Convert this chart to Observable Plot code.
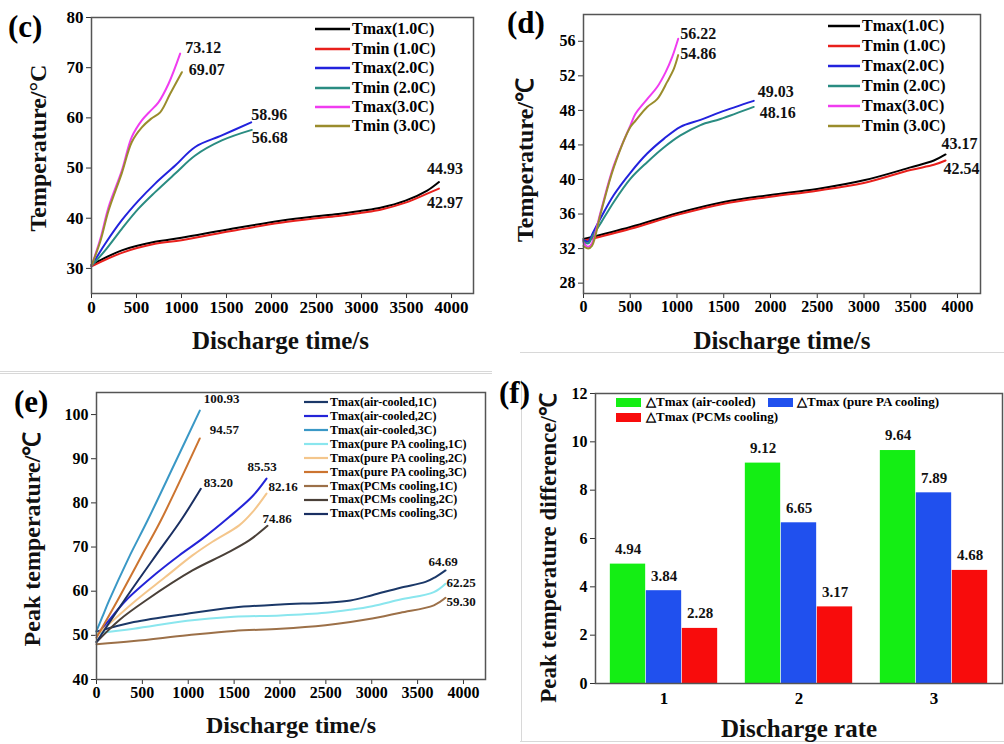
<!DOCTYPE html>
<html><head><meta charset="utf-8">
<script src="https://cdn.jsdelivr.net/npm/d3@7"></script>
<script src="https://cdn.jsdelivr.net/npm/@observablehq/plot@0.6"></script>
<style>
body{margin:0;background:#fff;}
#root{position:relative;width:1004px;height:744px;overflow:hidden;font-family:"Liberation Serif","Times New Roman",serif;font-weight:bold;color:#000;}
.panel{position:absolute;}
.abs{position:absolute;white-space:nowrap;}
.plabel{position:absolute;font-size:31px;line-height:31px;font-weight:bold;}
.ytitle{position:absolute;white-space:nowrap;transform:translate(-50%,-50%) rotate(-90deg);line-height:1;color:#111;}
.sep{position:absolute;background:#d8d8d8;}
</style></head><body><div id="root"></div>
<script>
// ---------- DATA ----------
const xTickValues = [0,500,1000,1500,2000,2500,3000,3500,4000];

// panel (c)
const cNames = ["Tmax(1.0C)","Tmin (1.0C)","Tmax(2.0C)","Tmin (2.0C)","Tmax(3.0C)","Tmin (3.0C)"];
const cEndLabels = ["44.93","42.97","58.96","56.68","73.12","69.07"];
const cTmax1 = [[0,30.7],[337,33.6],[707,35.3],[1000,36.1],[1500,37.7],[2100,39.5],[2500,40.4],[2767,40.9],[3000,41.5],[3211,42.1],[3489,43.5],[3730,45.5],[3860,47.2]];
const cTmin1 = [[0,30.4],[337,33.1],[707,34.9],[1000,35.6],[1500,37.3],[2100,39.1],[2500,40.0],[2767,40.5],[3000,41.1],[3211,41.7],[3489,43.1],[3730,44.9],[3860,45.9]];
const cTmax2 = [[0,30.5],[152,34.9],[337,39.6],[522,43.5],[707,46.9],[930,50.5],[1152,54.2],[1448,56.5],[1774,59.1]];
const cTmin2 = [[0,30.5],[152,33.6],[337,37.9],[522,41.9],[707,45.2],[930,48.9],[1152,52.5],[1448,55.5],[1781,57.6]];
const cTmax3 = [[0,30.5],[100,36.0],[189,42.2],[337,49.5],[448,56.2],[559,59.5],[650,61.3],[744,63.1],[856,66.8],[985,72.8]];
const cTmin3 = [[0,30.5],[100,35.5],[189,41.5],[337,49.0],[448,55.2],[559,58.1],[660,59.8],[763,61.1],[874,64.8],[1004,69.1]];

// panel (d)
const dNames = cNames;
const dEndLabels = ["43.17","42.54","49.03","48.16","56.22","54.86"];
const dTmax1 = [[0,33.1],[503,34.5],[1002,36.1],[1501,37.4],[2000,38.2],[2499,38.9],[2998,39.9],[3497,41.4],[3747,42.2],[3872,42.9]];
const dTmin1 = [[0,32.9],[503,34.3],[1002,35.9],[1501,37.2],[2000,38.0],[2499,38.7],[2998,39.6],[3497,41.1],[3747,41.7],[3872,42.2]];
const dTmax2 = [[0,33.0],[50,32.8],[100,33.8],[182,35.5],[324,38.2],[503,40.8],[681,43.0],[859,44.7],[1037,46.1],[1251,46.9],[1465,47.8],[1821,49.1]];
const dTmin2 = [[0,32.8],[50,32.6],[100,33.5],[182,34.9],[324,37.4],[503,40.1],[681,42.0],[859,43.7],[1037,45.1],[1251,46.3],[1465,47.0],[1821,48.4]];
const dTmax3 = [[0,32.7],[50,32.2],[90,32.6],[182,36.2],[324,41.6],[503,46.3],[556,47.6],[681,49.3],[788,50.7],[877,52.4],[949,54.2],[1013,56.3]];
const dTmin3 = [[0,32.3],[50,32.0],[90,32.3],[182,36.0],[324,41.4],[503,46.1],[556,46.8],[681,48.4],[788,49.3],[895,51.3],[966,52.8],[1013,54.4]];

// panel (e)
const eNames = ["Tmax(air-cooled,1C)","Tmax(air-cooled,2C)","Tmax(air-cooled,3C)","Tmax(pure PA cooling,1C)","Tmax(pure PA cooling,2C)","Tmax(pure PA cooling,3C)","Tmax(PCMs cooling,1C)","Tmax(PCMs cooling,2C)","Tmax(PCMs cooling,3C)"];
const eEndLabels = ["64.69","85.53","100.93","62.25","82.16","94.57","59.30","74.86","83.20"];
const eAir1 = [[0,50.8],[407,53.0],[988,54.9],[1497,56.3],[2005,57.0],[2496,57.4],[2768,57.9],[3005,59.1],[3313,60.8],[3586,62.1],[3695,63.2],[3804,64.7]];
const eAir2 = [[0,50.0],[160,54.0],[320,57.9],[650,64.0],[901,68.1],[1155,71.9],[1446,76.8],[1700,81.5],[1853,85.5]];
const eAir3 = [[0,51.0],[60,54.0],[138,57.9],[350,67.5],[556,76.0],[850,88.8],[1126,100.9]];
const ePA1 = [[0,50.5],[407,51.5],[988,53.3],[1497,54.2],[2005,54.5],[2496,55.1],[2768,55.8],[3005,56.6],[3313,58.1],[3677,59.8],[3804,61.7]];
const ePA2 = [[0,50.0],[429,57.9],[750,63.2],[1046,68.1],[1264,71.2],[1555,74.9],[1700,77.9],[1853,82.1]];
const ePA3 = [[0,49.5],[229,57.9],[494,68.1],[701,76.0],[1126,94.6]];
const ePCM1 = [[0,48.0],[407,48.7],[988,50.0],[1497,51.0],[2005,51.5],[2496,52.3],[2768,53.0],[3005,53.8],[3313,55.1],[3677,56.8],[3804,58.5]];
const ePCM2 = [[0,48.5],[250,53.5],[537,57.9],[1046,64.7],[1409,68.5],[1664,71.5],[1864,74.8]];
const ePCM3 = [[0,48.5],[302,57.9],[647,68.1],[919,76.0],[1137,83.2]];

// panel (f)
const fRates = ["1","2","3"];
const fNames = ["△Tmax (air-cooled)","△Tmax (pure PA cooling)","△Tmax (PCMs cooling)"];
const fAir = [4.94, 9.12, 9.64];
const fPA = [3.84, 6.65, 7.89];
const fPCM = [2.28, 3.17, 4.68];

// ---------- STYLES ----------
const cColors = ["#000000","#e8201c","#2222dd","#2a8c82","#f03cf0","#9a8c2c"];
const eColors = ["#1b3868","#2424d8","#3a98c6","#8ae6ee","#f4c68c","#cc7430","#9c7048","#4a4038","#1a2f62"];
const fColors = ["#14ee14","#2050ee","#f80c0c"];

const root = document.getElementById("root");
const FONT = "Liberation Serif, Times New Roman, serif";
const fmt = d => String(d);

function linePanel(cfg) {
  const rows = cfg.names.flatMap((n,i)=>cfg.series[i].map(([t,v])=>({series:n,t,v})));
  const m = cfg.margins;
  return Plot.plot({
    width: cfg.width, height: cfg.height,
    marginLeft: m[0], marginRight: m[1], marginTop: m[2], marginBottom: m[3],
    style: {fontFamily: FONT, fontWeight: "bold", background: "transparent", overflow: "visible", color: "#000"},
    x: {domain: cfg.xDomain},
    y: {domain: cfg.yDomain},
    color: {domain: cfg.names, range: cfg.colors},
    marks: [
      Plot.axisX({ticks: xTickValues, tickFormat: fmt, tickSize: 5, tickPadding: 2, fontSize: cfg.tickFont, label: null, stroke: "#333"}),
      Plot.axisY({ticks: cfg.yTicks, tickFormat: fmt, tickSize: 5, tickPadding: 3, fontSize: cfg.tickFont, label: null, stroke: "#333"}),
      Plot.line(rows, {x: "t", y: "v", z: "series", stroke: "series", strokeWidth: cfg.sw, curve: "catmull-rom"}),
      ...cfg.names.map((n,i)=>{
        const s = cfg.series[i]; const last = s[s.length-1];
        return Plot.text([last], {x: d=>d[0], y: d=>d[1], text: ()=>cfg.labels[i], dx: cfg.off[i][0], dy: cfg.off[i][1], textAnchor: "start", fontSize: cfg.labelFont, fill: "#111"});
      }),
      Plot.frame({stroke: "#555", strokeWidth: 1.5}),
      Plot.text([cfg.xTitle], {frameAnchor: "bottom", text: d=>d, dx: cfg.xTitleOff[0], dy: cfg.xTitleOff[1], fontSize: cfg.xTitleFont, lineAnchor: "middle", fill: "#111"})
    ]
  });
}

function place(node, left, top) {
  const d = document.createElement("div");
  d.className = "panel"; d.style.left = left+"px"; d.style.top = top+"px";
  d.appendChild(node); root.appendChild(d);
}

function yTitle(txt, cx, cy, size) {
  const d = document.createElement("div"); d.className = "ytitle";
  d.textContent = txt; d.style.left = cx+"px"; d.style.top = cy+"px"; d.style.fontSize = size+"px";
  root.appendChild(d);
}

function lineLegend(names, colors, x1, x2, tx, centers, fontSize, sw) {
  names.forEach((n,i)=>{
    const sv = d3.create("svg").attr("width", x2-x1).attr("height", 8)
      .style("position","absolute").style("left", x1+"px").style("top", (centers[i]-4)+"px");
    sv.append("line").attr("x1",0).attr("x2",x2-x1).attr("y1",4).attr("y2",4).attr("stroke",colors[i]).attr("stroke-width",sw);
    root.appendChild(sv.node());
    const t = document.createElement("div");
    t.className = "abs"; t.textContent = n;
    t.style.left = tx+"px"; t.style.top = (centers[i]-fontSize*0.6)+"px";
    t.style.fontSize = fontSize+"px"; t.style.lineHeight = (fontSize*1.2)+"px";
    root.appendChild(t);
  });
}

function panelLabel(txt, left, top) {
  const d = document.createElement("div"); d.className = "plabel";
  d.textContent = txt; d.style.left = left+"px"; d.style.top = top+"px";
  root.appendChild(d);
}

// separators
[[0,371,492,1],[0,373,492,1],[520,741,484,1],[521,380,1,362],[520,352,484,1]].forEach(([l,t,w,h])=>{
  const d = document.createElement("div"); d.className="sep";
  Object.assign(d.style,{left:l+"px",top:t+"px",width:w+"px",height:h+"px"}); root.appendChild(d);
});

// ---------- (c) ----------
place(linePanel({
  names: cNames, colors: cColors, labels: cEndLabels,
  series: [cTmax1,cTmin1,cTmax2,cTmin2,cTmax3,cTmin3],
  off: [[-12,-13],[-12,14],[0,-8],[0,8],[5,-6],[7,-2]],
  width: 500, height: 370, margins: [91,27,17,77],
  xDomain: [0,4244], yDomain: [25,80], yTicks: [30,40,50,60,70,80],
  tickFont: 17, labelFont: 16, sw: 2,
  xTitle: "Discharge time/s", xTitleOff: [-2,47], xTitleFont: 25
}), 0, 0);
yTitle("Temperature/°C", 38, 148, 24);
lineLegend(cNames, cColors, 315, 350, 352, [29,48.5,68,87.5,107,126], 16, 2.5);
panelLabel("(c)", 8, 11);

// ---------- (d) ----------
place(linePanel({
  names: dNames, colors: cColors, labels: dEndLabels,
  series: [dTmax1,dTmin1,dTmax2,dTmin2,dTmax3,dTmin3],
  off: [[-4,-11],[-2,8],[4,-9],[6,6],[2,-5],[2,-1]],
  width: 504, height: 370, margins: [83,24,14,77],
  xDomain: [0,4246], yDomain: [26.8,59.1], yTicks: [28,32,36,40,44,48,52,56],
  tickFont: 16, labelFont: 16, sw: 2,
  xTitle: "Discharge time/s", xTitleOff: [0,47], xTitleFont: 25
}), 500, 0);
yTitle("Temperature/℃", 525, 160, 24);
lineLegend(dNames, cColors, 828, 860, 862, [26,46,66,86,106,126], 16, 2.5);
panelLabel("(d)", 507, 7);

// ---------- (e) ----------
place(linePanel({
  names: eNames, colors: eColors, labels: eEndLabels,
  series: [eAir1,eAir2,eAir3,ePA1,ePA2,ePA3,ePCM1,ePCM2,ePCM3],
  off: [[-17,-9],[-19,-12],[4,-12],[1,-1],[2,-7],[10,-9],[1,4],[-5,-7],[3,-6]],
  width: 500, height: 374, margins: [96,15,22,65],
  xDomain: [0,4240], yDomain: [40,105], yTicks: [40,50,60,70,80,90,100],
  tickFont: 16, labelFont: 13, sw: 2,
  xTitle: "Discharge time/s", xTitleOff: [0,46], xTitleFont: 24
}), 0, 370);
yTitle("Peak temperature/℃", 32, 539, 24);
lineLegend(eNames, eColors, 304, 328, 330, [402,416,430,444,458,472,486,499.5,513.5], 12, 2.2);
panelLabel("(e)", 14, 386);

// ---------- (f) ----------
(function(){
  const series = [fAir, fPA, fPCM];
  const rowsBy = series.map(vals => fRates.map((r,j)=>({rate:r, value: vals[j]})));
  const band = 407/3, bw = 36;
  const insets = [0,1,2].map(k=>{ const l = band/2 - 1.5*bw + k*bw; return [l, band - l - bw]; });
  const chart = Plot.plot({
    width: 504, height: 374,
    marginLeft: 95, marginRight: 2, marginTop: 23, marginBottom: 61,
    style: {fontFamily: FONT, fontWeight: "bold", background: "transparent", overflow: "visible", color: "#000"},
    x: {domain: fRates, padding: 0},
    y: {domain: [0,12]},
    marks: [
      ...rowsBy.map((rows,k)=>Plot.barY(rows, {x: "rate", y: "value", fill: fColors[k], insetLeft: insets[k][0], insetRight: insets[k][1]})),
      ...rowsBy.map((rows,k)=>Plot.text(rows, {x: "rate", y: "value", text: d=>d.value.toFixed(2), dx: (k-1)*bw, dy: -15, fontSize: 15, fill: "#111"})),
      Plot.axisX({tickSize: 0, tickPadding: 8, fontSize: 17, label: null}),
      Plot.axisY({ticks: [0,2,4,6,8,10,12], tickFormat: fmt, tickSize: 5, tickPadding: 3, fontSize: 16, label: null, stroke: "#333"}),
      Plot.frame({stroke: "#555", strokeWidth: 1.5}),
      Plot.text(["Discharge rate"], {frameAnchor: "bottom", text: d=>d, dy: 45, fontSize: 25, lineAnchor: "middle", fill: "#111"})
    ]
  });
  place(chart, 500, 370);
  yTitle("Peak temperature difference/℃", 548, 548, 23);
  // legend
  const lg = [[616,402,646],[768,402,797],[616,417,646]];
  fNames.forEach((n,i)=>{
    const r = document.createElement("div"); r.className = "abs";
    Object.assign(r.style,{left: lg[i][0]+"px", top: (lg[i][1]-4.5)+"px", width: "25px", height: "9px", background: fColors[i]});
    root.appendChild(r);
    const t = document.createElement("div"); t.className = "abs"; t.textContent = n;
    Object.assign(t.style,{left: lg[i][2]+"px", top: (lg[i][1]-8)+"px", fontSize: "13px", lineHeight: "16px"});
    root.appendChild(t);
  });
  panelLabel("(f)", 499, 377);
})();
</script></body></html>
